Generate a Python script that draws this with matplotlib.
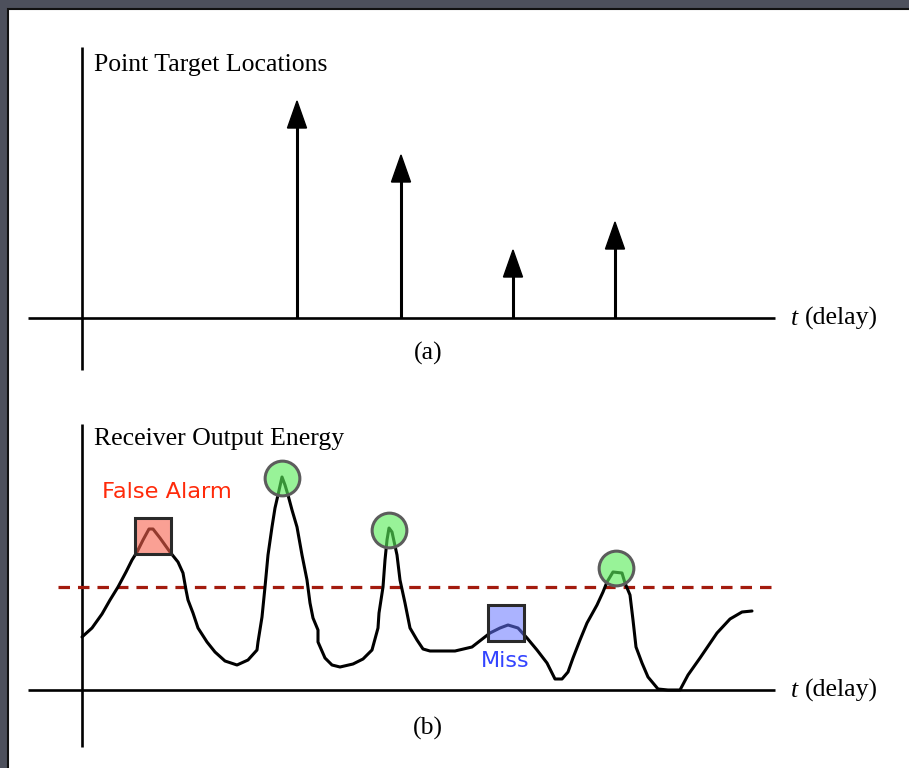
import matplotlib
matplotlib.use("Agg")
import matplotlib.pyplot as plt
from matplotlib.patches import Rectangle
import numpy as np

# ---------------- data (delay measured from vertical axis, amplitude above baseline) -------------
target_delay = [215, 319, 431, 533]
target_amp = [217, 163, 68, 96]

curve_delay = [0, 10, 20, 28, 36, 44, 50, 55, 61, 67, 71, 78, 88, 96, 101, 104, 106, 111, 116,
               125, 133, 143, 155, 166, 175, 176, 180, 183, 186, 190, 193, 196, 200, 203, 206,
               210, 215, 220, 225, 228, 231, 236, 236, 243, 250, 258, 271, 281, 290, 296, 297,
               301, 303, 305, 307, 310, 315, 318, 323, 328, 335, 341, 348, 358, 373, 390, 408,
               418, 426, 436, 445, 455, 465, 473, 480, 486, 491, 498, 505, 515, 521, 525, 531,
               540, 543, 548, 551, 554, 560, 566, 576, 586, 598, 606, 618, 635, 648, 660, 670]
curve_energy = [53, 62, 76, 90, 103, 118, 130, 138, 150, 161, 161, 152, 138, 128, 117, 100, 90,
                77, 62, 48, 38, 29, 25, 30, 40, 48, 73, 103, 135, 163, 182, 195, 213, 205, 195,
                180, 163, 135, 110, 87, 72, 60, 48, 32, 25, 23, 26, 31, 40, 62, 77, 103, 130,
                150, 162, 158, 135, 110, 87, 62, 50, 41, 39, 39, 39, 43, 57, 62, 65, 62, 52, 40,
                27, 11, 11, 18, 32, 50, 67, 85, 98, 108, 118, 117, 107, 95, 70, 43, 27, 13, 1, 0,
                0, 15, 32, 57, 71, 78, 79]

threshold = 103
hit_delay = [200, 307, 534]
hit_energy = [212, 160, 122]
false_alarm_delay = [71]
false_alarm_energy = [154]
miss_delay = [424]
miss_energy = [67]

# ---------------- figure ----------------
W, H = 909, 768
fig = plt.figure(figsize=(W / 100, H / 100), dpi=100)
fig.patch.set_facecolor('#4d505c')

bg = fig.add_axes([0, 0, 1, 1])
bg.set_xlim(0, W)
bg.set_ylim(H, 0)
bg.axis('off')
bg.add_patch(Rectangle((8, 9), W, H, facecolor='white', edgecolor='#111111', lw=1.5))

x0 = 82
base_a, base_b = 318, 690
ax_a = fig.add_axes([0, 0, 1, 1])
ax_a.set_xlim(-x0, W - x0)
ax_a.set_ylim(base_a - H, base_a)
ax_a.axis('off')
ax_b = fig.add_axes([0, 0, 1, 1])
ax_b.set_xlim(-x0, W - x0)
ax_b.set_ylim(base_b - H, base_b)
ax_b.axis('off')

axis_lw = 1.9
# panel (a) axes
ax_a.hlines(0, -54, 693, color='black', lw=axis_lw)
ax_a.vlines(0, -52, 271, color='black', lw=axis_lw)
# panel (b) axes
ax_b.hlines(0, -54, 693, color='black', lw=axis_lw)
ax_b.vlines(0, -57, 266, color='black', lw=axis_lw)

# arrows
head_len, head_hw = 27, 9.5
for t, a in zip(target_delay, target_amp):
    ax_a.vlines(t, 0, a - head_len + 2, color='black', lw=2.2)
    ax_a.fill([t - head_hw, t + head_hw, t], [a - head_len, a - head_len, a],
              color='black', lw=1.0, edgecolor='black')

# threshold
ax_b.plot([-24, 693], [threshold, threshold], color='#a31b0e', lw=2.3,
          dashes=(3.6, 2.5))

# receiver curve
ax_b.plot(curve_delay, curve_energy, color='black', lw=2.2, solid_joinstyle='round',
          solid_capstyle='round')

# markers
ax_b.plot(hit_delay, hit_energy, 'o', ms=25, mfc=(0.35, 0.93, 0.35, 0.62),
          mec='#5c5c5c', mew=2.2, ls='none')
ax_b.plot(false_alarm_delay, false_alarm_energy, 's', ms=26, mfc=(0.97, 0.38, 0.30, 0.6),
          mec='#2a2a2a', mew=2.2, ls='none')
ax_b.plot(miss_delay, miss_energy, 's', ms=26, mfc=(0.40, 0.46, 1.0, 0.55),
          mec='#2a2a2a', mew=2.2, ls='none')

# ---------------- text ----------------
serif = ['Liberation Serif', 'DejaVu Serif']
fs = 18.5
bg.text(94, 71, 'Point Target Locations', family=serif, fontsize=fs, va='baseline', ha='left')
bg.text(94, 445, 'Receiver Output Energy', family=serif, fontsize=fs, va='baseline', ha='left')
bg.text(428, 360, '(a)', family=serif, fontsize=fs, va='baseline', ha='center')
bg.text(428, 735, '(b)', family=serif, fontsize=fs, va='baseline', ha='center')
for yb in (325, 697):
    bg.text(798, yb, 't', family=serif, fontsize=fs, style='italic', va='baseline', ha='right')
    bg.text(805, yb, '(delay)', family=serif, fontsize=fs, va='baseline', ha='left')

bg.text(167, 492, 'False Alarm', family=['DejaVu Sans'], fontsize=16.2, color='#ff2a0a',
        ha='center', va='center')
bg.text(505, 661, 'Miss', family=['DejaVu Sans'], fontsize=16, color='#3344ff',
        ha='center', va='center')

fig.savefig('out.png', dpi=100, facecolor=fig.get_facecolor())
